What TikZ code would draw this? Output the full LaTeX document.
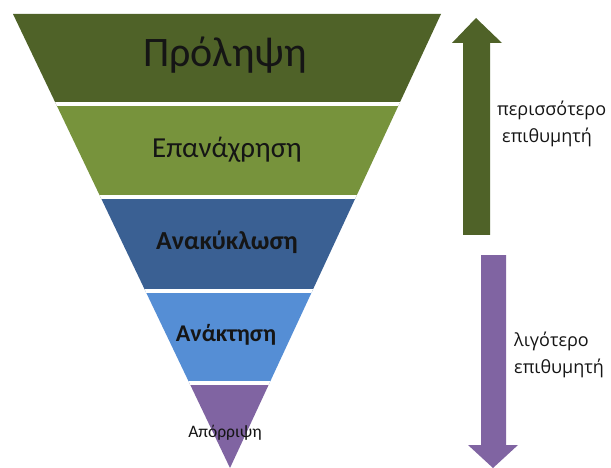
\documentclass[tikz,border=0pt]{standalone}
\usepackage{fontspec}
\setmainfont{Carlito}
\newfontfamily\sidefont{Open Sans}
\definecolor{bandA}{HTML}{4F6228}
\definecolor{bandB}{HTML}{77933C}
\definecolor{bandC}{HTML}{3A6093}
\definecolor{bandD}{HTML}{558ED5}
\definecolor{bandE}{HTML}{8064A2}
\definecolor{txt}{HTML}{151515}
\begin{document}
\begin{tikzpicture}[x=1pt,y=-1pt,
  gap/.style={white,line width=4pt},
  lbl/.style={anchor=base,inner sep=0pt,text=txt},
  side/.style={anchor=base west,inner sep=0pt,text=txt,font=\sidefont\fontsize{18}{20}\selectfont}]
\useasboundingbox (0,0) rectangle (611,468);
\fill[white] (0,0) rectangle (611,468);
\coordinate (tl) at (13,14);
\coordinate (tr) at (441,14);
\coordinate (ap) at (230,468);
\begin{scope}
  \clip (tl) -- (tr) -- (ap) -- cycle;
  \fill[bandA] (0,0) rectangle (450,104);
  \fill[bandB] (0,104) rectangle (450,197.5);
  \fill[bandC] (0,197.5) rectangle (450,290.5);
  \fill[bandD] (0,290.5) rectangle (450,383);
  \fill[bandE] (0,383) rectangle (450,470);
  \draw[gap] (0,104) -- (450,104);
  \draw[gap] (0,197.5) -- (450,197.5);
  \draw[gap] (0,290.5) -- (450,290.5);
  \draw[gap] (0,383) -- (450,383);
\end{scope}
\node[lbl,font=\fontsize{42}{46}\selectfont] (l1) at (225,67) {Πρόληψη};
\node[lbl,font=\fontsize{29}{32}\selectfont] (l2) at (227,158) {Επανάχρηση};
\node[lbl,font=\bfseries\fontsize{26}{30}\selectfont] (l3) at (227,249) {Ανακύκλωση};
\node[lbl,font=\bfseries\fontsize{24}{28}\selectfont] (l4) at (226,341) {Ανάκτηση};
\node[lbl,font=\fontsize{17.5}{20}\selectfont] (l5) at (225,437) {Απόρριψη};
% arrows
\fill[bandA] (463,235) -- (463,43) -- (452,43) -- (476,18) -- (502,43) -- (490,43) -- (490,235) -- cycle;
\fill[bandE] (481,255) -- (481,445) -- (468,445) -- (493,468) -- (518,445) -- (506,445) -- (506,255) -- cycle;
\node[side] (m1) at (497,116) {περισσότερο};
\node[side] (m2) at (502,143) {επιθυμητή};
\node[side] (d1) at (514,346) {λιγότερο};
\node[side] (d2) at (514,373) {επιθυμητή};
\end{tikzpicture}
\end{document}
